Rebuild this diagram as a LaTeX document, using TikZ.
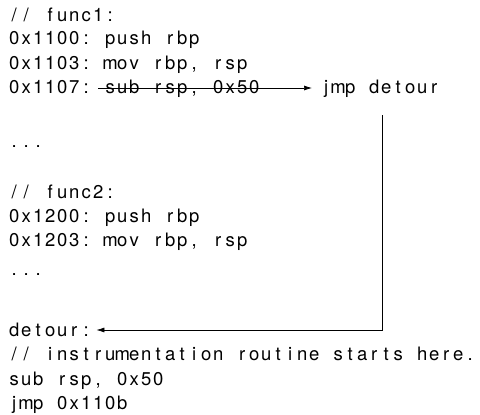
\documentclass[tikz,border=0pt]{standalone}
\usepackage{fontspec}
\setmainfont{TeX Gyre Heros}
\usetikzlibrary{arrows.meta}
\ExplSyntaxOn
\NewDocumentCommand{\cellmono}{m}{ \str_map_inline:nn {#1} { \makebox[12pt][c]{##1} } }
\ExplSyntaxOff
\newcommand{\codefont}{\fontsize{18.5pt}{24pt}\selectfont}
\tikzset{
  codeline/.style={anchor=base west, inner sep=0pt, font=\codefont, text=black},
  link/.style={draw=black, line width=0.7pt, -{Latex[length=8pt,width=5pt]}}
}
\begin{document}
\begin{tikzpicture}[x=1pt,y=-1pt]
\useasboundingbox (0,0) rectangle (480,415);
\node[codeline] (l1) at (8,21) {\cellmono{// func1:}};
\node[codeline] (l2) at (8,45) {\cellmono{0x1100: push rbp}};
\node[codeline] (l3) at (8,69) {\cellmono{0x1103: mov rbp, rsp}};
\node[codeline] (l4) at (8,93) {\cellmono{0x1107:}};
\node[codeline] (sub) at (104,93) {\cellmono{sub rsp, 0x50}};
\node[codeline] (jmp) at (320,93) {\cellmono{jmp detour}};
\node[codeline] (d1) at (8,147) {\cellmono{...}};
\node[codeline] (l5) at (8,198) {\cellmono{// func2:}};
\node[codeline] (l6) at (8,222) {\cellmono{0x1200: push rbp}};
\node[codeline] (l7) at (8,246) {\cellmono{0x1203: mov rbp, rsp}};
\node[codeline] (d2) at (8,275) {\cellmono{...}};
\node[codeline] (det) at (8,336) {\cellmono{detour:}};
\node[codeline] (l8) at (8,360) {\cellmono{// instrumentation routine starts here.}};
\node[codeline] (l9) at (8,385) {\cellmono{sub rsp, 0x50}};
\node[codeline] (l10) at (8,409) {\cellmono{jmp 0x110b}};
\draw[link] ([xshift=-6pt,yshift=5pt]sub.base west) -- ([xshift=-8pt,yshift=5pt]jmp.base west);
\draw[link] ([xshift=62pt,yshift=-22pt]jmp.base west) |- ([xshift=4pt,yshift=6pt]det.base east);
\end{tikzpicture}
\end{document}
